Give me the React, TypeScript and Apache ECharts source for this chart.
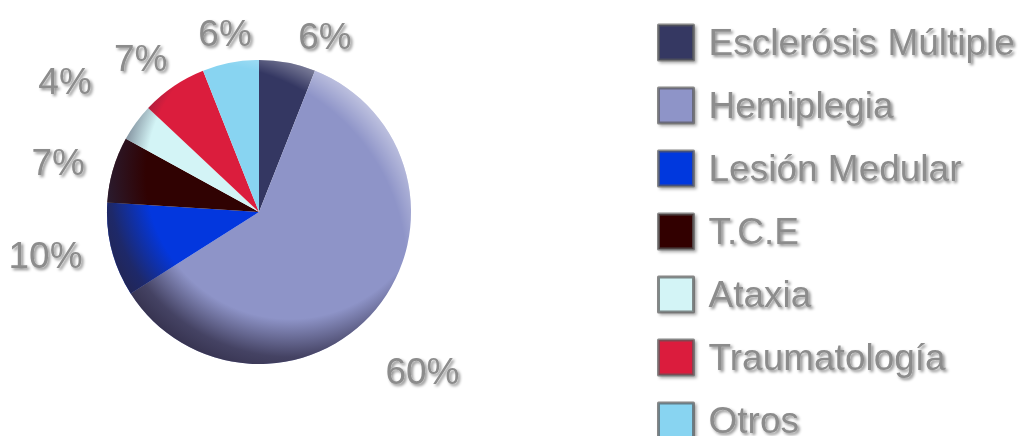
import React, { useEffect, useRef } from "react";
import * as echarts from "echarts";

const categories = [
  "Esclerósis Múltiple",
  "Hemiplegia",
  "Lesión Medular",
  "T.C.E",
  "Ataxia",
  "Traumatología",
  "Otros",
];
const values = [6, 60, 10, 7, 4, 7, 6];
const colors = ["#343762", "#8e94c8", "#0337de", "#300202", "#d3f4f6", "#db1d3d", "#88d4f1"];
// label nudges (px) relative to default outside placement, per slice
const labelDx = [1, -15, 0, 1, -19, 13, 31];
const labelDy = [-2, 47, -1, 0, -26, -7, -5];

const CX = 259;
const CY = 212;
const R = 152;

export default function App() {
  const ref = useRef<HTMLDivElement>(null);
  useEffect(() => {
    if (!ref.current) return;
    const chart = echarts.init(ref.current, undefined, { renderer: "svg" });
    const total = values.reduce((a, b) => a + b, 0);
    let acc = 0;
    const midAngles = values.map((v) => {
      const m = ((acc + v / 2) / total) * 360;
      acc += v;
      return m;
    });
    const findSlice = (ang: number) => {
      let best = 0;
      let bd = 1e9;
      midAngles.forEach((m, i) => {
        let d = Math.abs(m - ang) % 360;
        if (d > 180) d = 360 - d;
        if (d < bd) {
          bd = d;
          best = i;
        }
      });
      return best;
    };
    const textShadow = {
      textShadowColor: "rgba(0,0,0,0.45)",
      textShadowBlur: 3,
      textShadowOffsetX: 2,
      textShadowOffsetY: 2,
    };
    const shade = new echarts.graphic.RadialGradient(
      CX + 31,
      CY - 37,
      200,
      [
        { offset: 0, color: "rgba(40,35,60,0)" },
        { offset: 0.72, color: "rgba(40,35,60,0)" },
        { offset: 0.91, color: "rgba(40,35,60,0.72)" },
        { offset: 1, color: "rgba(40,35,60,0.85)" },
      ],
      true
    );
    const light = new echarts.graphic.RadialGradient(
      CX - 59,
      CY + 58,
      240,
      [
        { offset: 0, color: "rgba(255,255,255,0)" },
        { offset: 0.86, color: "rgba(255,255,255,0)" },
        { offset: 1, color: "rgba(255,255,255,0.5)" },
      ],
      true
    );
    const pieBase = {
      type: "pie" as const,
      center: [CX, CY],
      radius: R,
      startAngle: 90,
      clockwise: true,
      avoidLabelOverlap: false,
    };
    chart.setOption({
      animation: false,
      backgroundColor: "#ffffff",
      legend: {
        orient: "vertical",
        left: 657,
        top: 18,
        height: 480,
        padding: 0,
        itemWidth: 35,
        itemHeight: 35,
        itemGap: 14,
        icon: "rect",
        data: categories,
        selectedMode: false,
        itemStyle: {
          borderColor: "rgba(90,90,90,0.7)",
          borderWidth: 3,
          shadowBlur: 3,
          shadowColor: "rgba(0,0,0,0.35)",
          shadowOffsetX: 2,
          shadowOffsetY: 2,
        },
        textStyle: {
          fontSize: 37,
          fontFamily: "Liberation Sans, Arial, sans-serif",
          color: "#8c8c8c",
          lineHeight: 35,
          padding: [14, 0, 0, 10],
          ...textShadow,
        },
      },
      series: [
        {
          ...pieBase,
          name: "main",
          data: categories.map((n, i) => ({
            name: n,
            value: values[i],
            itemStyle: { color: colors[i] },
          })),
          label: {
            show: true,
            position: "outside",
            formatter: "{c}%",
            fontSize: 37,
            fontFamily: "Liberation Sans, Arial, sans-serif",
            color: "#8c8c8c",
            distanceToLabelLine: 5,
            ...textShadow,
          },
          labelLine: { show: false, length: 25, length2: 0 },
          labelLayout: (p: any) => {
            const r = p.labelRect;
            const lx = r.x + r.width / 2 - CX;
            const ly = r.y + r.height / 2 - CY;
            let ang = (Math.atan2(lx, -ly) * 180) / Math.PI;
            if (ang < 0) ang += 360;
            const i = findSlice(ang);
            return { dx: labelDx[i], dy: labelDy[i], hideOverlap: false };
          },
          emphasis: { disabled: true },
        },
        {
          ...pieBase,
          name: "shade",
          silent: true,
          data: categories.map((n, i) => ({ name: n, value: values[i] })),
          itemStyle: { color: shade },
          label: { show: false },
          labelLine: { show: false },
          emphasis: { disabled: true },
        },
        {
          ...pieBase,
          name: "light",
          silent: true,
          data: categories.map((n, i) => ({ name: n, value: values[i] })),
          itemStyle: { color: light },
          label: { show: false },
          labelLine: { show: false },
          emphasis: { disabled: true },
        },
      ],
    });
    return () => chart.dispose();
  }, []);
  return (
    <div
      ref={ref}
      style={{ position: "absolute", left: 0, top: 0, width: 1026, height: 436 }}
    />
  );
}
